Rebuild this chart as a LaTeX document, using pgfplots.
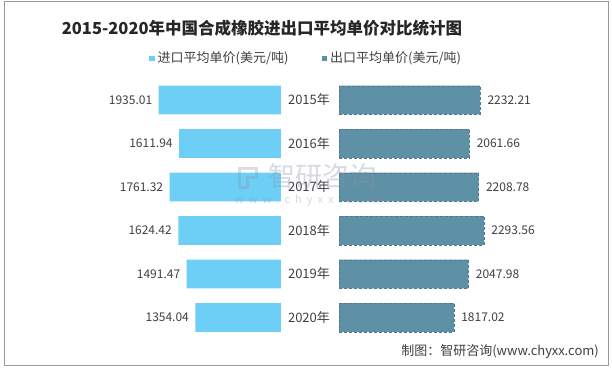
\documentclass[border=0pt]{standalone}
\usepackage{pgfplots}
\usepackage{pgfplotstable}
\usepackage{fontspec}
\pgfplotsset{compat=1.18}
\setmainfont{Noto Sans CJK SC}
\definecolor{impc}{HTML}{6DCFF6}
\definecolor{expc}{HTML}{5E90A6}
\definecolor{txt}{HTML}{404040}
\definecolor{wm}{HTML}{8A93A8}
\pgfplotstableread{
y v lab
0 1935.01 1935.01
1 1611.94 1611.94
2 1761.32 1761.32
3 1624.42 1624.42
4 1491.47 1491.47
5 1354.04 1354.04
}\imp
\pgfplotstableread{
y v lab
0 2232.21 2232.21
1 2061.66 2061.66
2 2208.78 2208.78
3 2293.56 2293.56
4 2047.98 2047.98
5 1817.02 1817.02
}\exp
\begin{document}
\begin{tikzpicture}
\useasboundingbox (0pt,0pt) rectangle (612pt,370pt);
\fill[white] (0pt,0pt) rectangle (612pt,370pt);
\draw[black!40, line width=1pt] (4pt,4.5pt) rectangle (608pt,368pt);
\pgfplotsset{
  bfly/.style={
    scale only axis, width=189.6pt, height=261pt,
    xmin=0, xmax=3000, ymin=-0.5, ymax=5.5, y dir=reverse,
    xbar, bar width=28.7pt, bar shift=0pt,
    axis line style={draw=none}, xtick=\empty, major tick length=0pt,
    clip=false,
    point meta=explicit symbolic, nodes near coords,
    nodes near coords style={font=\fontsize{12}{14}\selectfont, text=txt},
  }
}
\begin{axis}[bfly, at={(91.4pt,30.75pt)}, anchor=south west, x dir=reverse,
  ytick={0,1,2,3,4,5},
  yticklabels={2015年,2016年,2017年,2018年,2019年,2020年},
  yticklabel pos=right,
  yticklabel style={anchor=center, xshift=28pt, font=\fontsize{13}{15}\selectfont, text=txt},
  every node near coord/.append style={anchor=east, xshift=-3pt}]
\addplot[fill=impc, draw=none] table[x=v, y=y, meta=lab] {\imp};
\end{axis}
\begin{axis}[bfly, at={(339pt,30.75pt)}, anchor=south west, ytick=\empty,
  every node near coord/.append style={anchor=west, xshift=4pt}]
\addplot[fill=expc, draw=expc!85!black, densely dashed, line width=0.25pt] table[x=v, y=y, meta=lab] {\exp};
\end{axis}
\node[text=black!85, font=\bfseries\fontsize{16.5}{19}\selectfont] at (262pt,342pt) {2015-2020年中国合成橡胶进出口平均单价对比统计图};
\fill[impc] (149.3pt,308.5pt) rectangle (154.7pt,314pt);
\node[anchor=west, inner sep=0pt, text=txt, font=\fontsize{13}{15}\selectfont] at (157.5pt,311.5pt) {进口平均单价(美元/吨)};
\fill[expc] (322pt,308.5pt) rectangle (327.4pt,314pt);
\node[anchor=west, inner sep=0pt, text=txt, font=\fontsize{13}{15}\selectfont] at (330pt,311.5pt) {出口平均单价(美元/吨)};
\node[anchor=east, inner sep=0pt, text=txt, font=\fontsize{13}{15}\selectfont] at (599pt,18pt) {制图：智研咨询(www.chyxx.com)};
% watermark
\draw[wm, opacity=0.3, line width=3pt] (239pt,183pt) -- (239pt,202pt) -- (256pt,202pt) -- (256pt,193pt) -- (247pt,193pt) -- (247pt,183pt) -- cycle;
\node[text=wm, opacity=0.35, font=\fontsize{27}{29}\selectfont] at (322.5pt,194pt) {智研咨询};
\node[text=wm, opacity=0.35, font=\fontsize{11}{12}\selectfont] at (307pt,170pt) {w\hspace{5pt}w\hspace{5pt}w\hspace{5pt}.\hspace{5pt}c\hspace{5pt}h\hspace{5pt}y\hspace{5pt}x\hspace{5pt}x\hspace{5pt}.\hspace{5pt}c\hspace{5pt}o\hspace{5pt}m};
\end{tikzpicture}
\end{document}
